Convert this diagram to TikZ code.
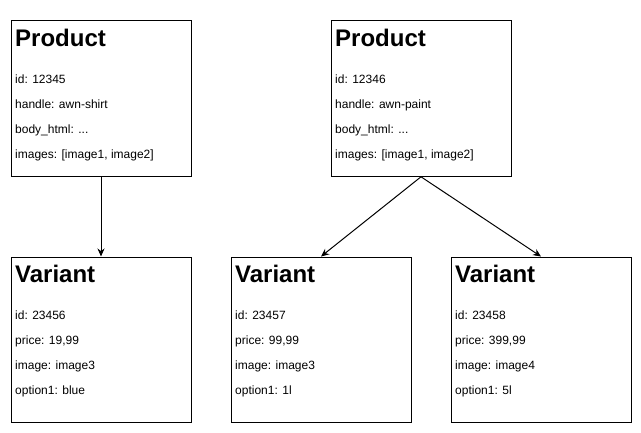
\documentclass[tikz,border=0pt]{standalone}
\usepackage{fontspec}
\setmainfont{Liberation Sans}
\usetikzlibrary{arrows.meta}
\tikzset{
  card/.style={draw=black, line width=1pt, fill=white, inner sep=0pt, anchor=north west},
  ttl/.style={anchor=base west, inner sep=0pt, font=\fontsize{24}{28}\selectfont\bfseries},
  fld/.style={anchor=base west, inner sep=0pt, font=\fontsize{12}{14}\selectfont},
  link/.style={draw=black, line width=1pt, -{Stealth[length=8pt,width=7pt]}}
}
\begin{document}
\begin{tikzpicture}[x=1pt,y=-1pt]
\useasboundingbox (0,0) rectangle (641,432);
% Product 1
\node[card, minimum width=180pt, minimum height=156pt] (p1) at (10.5,19.8) {};
\node[ttl] (p1t) at (15,46.5) {Product};
\node[fld] (p1a) at (15,83.3) {id: 12345};
\node[fld] (p1b) at (15,108.3) {handle: awn-shirt};
\node[fld] (p1c) at (15,133.3) {body\_html: ...};
\node[fld] (p1d) at (15,158.3) {images: [image1, image2]};
% Product 2
\node[card, minimum width=180pt, minimum height=156pt] (p2) at (330.5,19.8) {};
\node[ttl] (p2t) at (335,46.5) {Product};
\node[fld] (p2a) at (335,83.3) {id: 12346};
\node[fld] (p2b) at (335,108.3) {handle: awn-paint};
\node[fld] (p2c) at (335,133.3) {body\_html: ...};
\node[fld] (p2d) at (335,158.3) {images: [image1, image2]};
% Variant 1
\node[card, minimum width=180pt, minimum height=165pt] (v1) at (10.5,256.5) {};
\node[ttl] (v1t) at (15,282.5) {Variant};
\node[fld] (v1a) at (15,319.5) {id: 23456};
\node[fld] (v1b) at (15,344.5) {price: 19,99};
\node[fld] (v1c) at (15,369.5) {image: image3};
\node[fld] (v1d) at (15,394.5) {option1: blue};
% Variant 2
\node[card, minimum width=180pt, minimum height=165pt] (v2) at (230.5,256.5) {};
\node[ttl] (v2t) at (235,282.5) {Variant};
\node[fld] (v2a) at (235,319.5) {id: 23457};
\node[fld] (v2b) at (235,344.5) {price: 99,99};
\node[fld] (v2c) at (235,369.5) {image: image3};
\node[fld] (v2d) at (235,394.5) {option1: 1l};
% Variant 3
\node[card, minimum width=180pt, minimum height=165pt] (v3) at (450.5,256.5) {};
\node[ttl] (v3t) at (455,282.5) {Variant};
\node[fld] (v3a) at (455,319.5) {id: 23458};
\node[fld] (v3b) at (455,344.5) {price: 399,99};
\node[fld] (v3c) at (455,369.5) {image: image4};
\node[fld] (v3d) at (455,394.5) {option1: 5l};
% Connectors
\draw[link] (p1.south) -- (v1.north);
\draw[link] (p2.south) -- (v2.north);
\draw[link] (p2.south) -- (v3.north);
\end{tikzpicture}
\end{document}
